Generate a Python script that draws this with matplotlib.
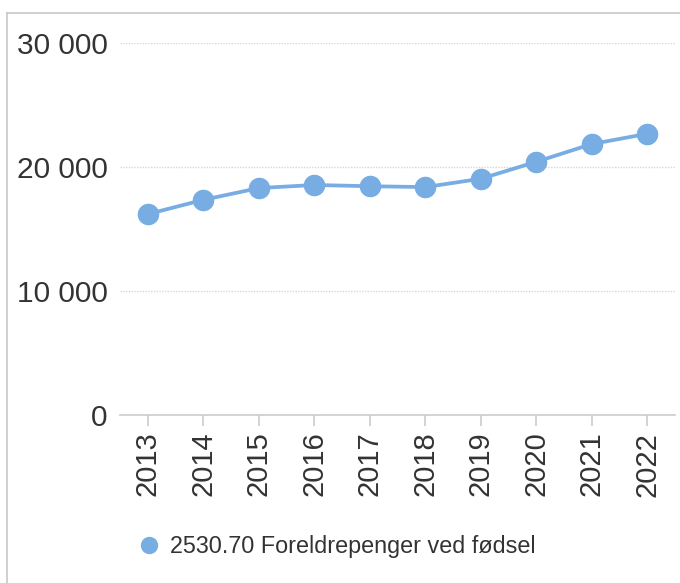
import matplotlib.pyplot as plt
from matplotlib.lines import Line2D
from matplotlib.ticker import FuncFormatter

plt.rcParams['font.family'] = ['Liberation Sans', 'DejaVu Sans']

years = [2013, 2014, 2015, 2016, 2017, 2018, 2019, 2020, 2021, 2022]
values = [16200, 17350, 18300, 18550, 18450, 18380, 19050, 20420, 21850, 22680]
series_name = "2530.70 Foreldrepenger ved fødsel"
y_ticks = [0, 10000, 20000, 30000]

line_color = "#77ade3"
text_color = "#333333"

fig = plt.figure(figsize=(6.8, 5.83), dpi=100)
ax = fig.add_axes([120 / 680, 1 - 415 / 583, 555 / 680, 372 / 583])

ax.plot(years, values, color=line_color, lw=2.7, marker="o", markersize=14.5,
        zorder=3, clip_on=False)

ax.set_xlim(2012.5, 2022.5)
ax.set_ylim(0, 30000)
ax.set_xticks(years)
ax.set_xticklabels([str(y) for y in years], rotation=90)
ax.set_yticks(y_ticks)
ax.yaxis.set_major_formatter(FuncFormatter(lambda v, p: f"{int(v):,}".replace(",", " ")))

for s in ["top", "right", "left"]:
    ax.spines[s].set_visible(False)
ax.spines["bottom"].set_color("#cccccc")
ax.spines["bottom"].set_linewidth(1.2)

ax.grid(axis="y", color="#d8d8d8", linestyle=(0, (1, 1)), lw=1)
ax.set_axisbelow(True)
ax.tick_params(axis="y", length=0, pad=9, labelsize=21.5, labelcolor=text_color)
ax.tick_params(axis="x", length=8, width=1.2, color="#cccccc", pad=4,
               labelsize=21, labelcolor=text_color)
for lbl in ax.get_xticklabels():
    lbl.set_verticalalignment("top")

handle = Line2D([], [], color=line_color, marker="o", linestyle="none", markersize=11.5)
fig.legend([handle], [series_name], loc="center left",
           bbox_to_anchor=(137 / 680, 1 - 547 / 583), frameon=False,
           fontsize=16.8, labelcolor=text_color, handlelength=1, handletextpad=0.4,
           borderpad=0, borderaxespad=0)

# outer frame (top and left edges)
fig.add_artist(Line2D([7 / 680, 1], [1 - 13 / 583, 1 - 13 / 583], color="#c8c8c8", lw=1.2))
fig.add_artist(Line2D([7 / 680, 7 / 680], [0, 1 - 13 / 583], color="#c8c8c8", lw=1.2))

fig.savefig("out.png", dpi=100)
